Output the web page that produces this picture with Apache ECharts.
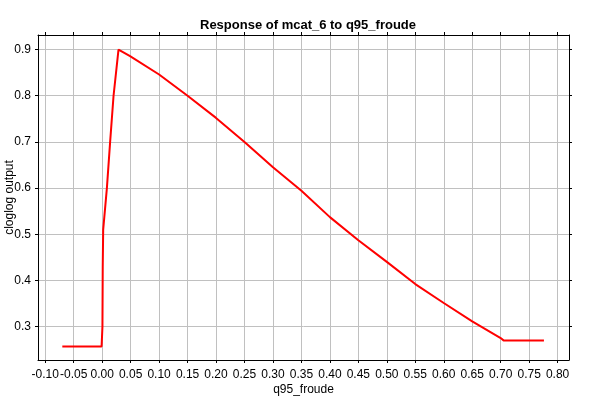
<!DOCTYPE html>
<html>
<head>
<meta charset="utf-8">
<script src="https://cdn.jsdelivr.net/npm/echarts@6/dist/echarts.min.js"></script>
<style>html,body{margin:0;padding:0;background:#fff}#c{width:600px;height:400px}</style>
</head>
<body>
<div id="c"></div>
<script>
var titleText = "Response of mcat_6 to q95_froude";
var xName = "q95_froude";
var yName = "cloglog output";
var xTicks = [-0.10,-0.05,0.00,0.05,0.10,0.15,0.20,0.25,0.30,0.35,0.40,0.45,0.50,0.55,0.60,0.65,0.70,0.75,0.80];
var yTicks = [0.3,0.4,0.5,0.6,0.7,0.8,0.9];
var xVals = [-0.070,-0.001,0.0005,0.001,0.0018,0.0083,0.014,0.020,0.0287,0.049,0.10,0.15,0.20,0.25,0.30,0.35,0.40,0.45,0.50,0.55,0.60,0.65,0.70,0.705,0.776];
var yVals = [0.257,0.257,0.30,0.43,0.51,0.60,0.70,0.80,0.900,0.886,0.846,0.800,0.752,0.700,0.645,0.594,0.537,0.487,0.440,0.392,0.351,0.311,0.275,0.270,0.270];

var xMin = -0.1127, xMax = 0.82, yMin = 0.2275, yMax = 0.9316;
var pts = xVals.map(function(x,i){return [x,yVals[i]];});
var font = "'Liberation Sans', Arial, sans-serif";
var chart = echarts.init(document.getElementById('c'), null, {renderer:'canvas'});
function xAxisCfg(pos, show){
  return {
    type:'value', position:pos, min:xMin, max:xMax,
    axisLine:{show:true,onZero:false,lineStyle:{color:'#000',width:1}},
    axisTick:{show:true,inside:false,length:3,customValues:xTicks,lineStyle:{color:'#000'}},
    axisLabel:{show:show,customValues:xTicks,formatter:function(v){return v.toFixed(2);},color:'#000',fontFamily:font,fontSize:12,margin:9},
    splitLine:{show:show,lineStyle:{color:'#c0c0c0',width:1}},
    name: show ? xName : '', nameLocation:'middle', nameGap:24, nameMoveOverlap:false,
    nameTextStyle:{color:'#000',fontFamily:font,fontSize:12}
  };
}
function yAxisCfg(pos, show){
  return {
    type:'value', position:pos, min:yMin, max:yMax,
    axisLine:{show:true,onZero:false,lineStyle:{color:'#000',width:1}},
    axisTick:{show:true,inside:false,length:3,customValues:yTicks,lineStyle:{color:'#000'}},
    axisLabel:{show:show,customValues:yTicks,formatter:function(v){return v.toFixed(1);},color:'#000',fontFamily:font,fontSize:12,margin:7},
    splitLine:{show:show,lineStyle:{color:'#c0c0c0',width:1}},
    name: show ? yName : '', nameLocation:'middle', nameGap:22, nameMoveOverlap:false,
    nameTextStyle:{color:'#000',fontFamily:font,fontSize:12}
  };
}
chart.setOption({
  animation:false,
  backgroundColor:'#fff',
  title:{text:titleText,left:303,textAlign:'center',top:14,textStyle:{fontFamily:font,fontSize:13,fontWeight:'bold',color:'#000'}},
  grid:{left:38,right:31,top:35,bottom:40,containLabel:false,outerBoundsMode:'none'},
  xAxis:[xAxisCfg('bottom',true), xAxisCfg('top',false)],
  yAxis:[yAxisCfg('left',true), yAxisCfg('right',false)],
  series:[{type:'line',xAxisIndex:0,yAxisIndex:0,data:pts,showSymbol:false,symbol:'none',lineStyle:{color:'#ff0000',width:2},itemStyle:{color:'#ff0000'}}]
});
</script>
</body>
</html>
